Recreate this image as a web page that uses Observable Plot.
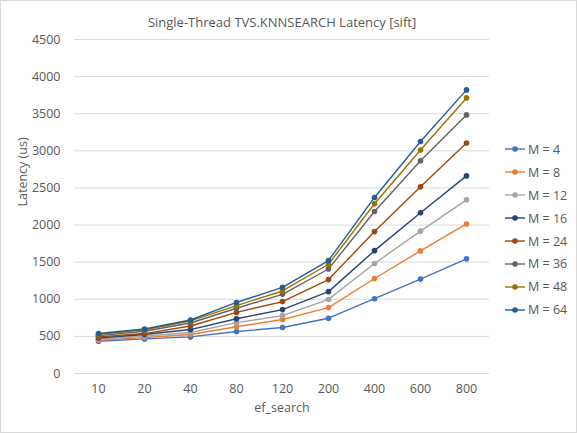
<!DOCTYPE html>
<html>
<head>
<meta charset="utf-8">
<script src="https://cdn.jsdelivr.net/npm/d3@7"></script>
<script src="https://cdn.jsdelivr.net/npm/@observablehq/plot@0.6"></script>
<style>
  html, body { margin: 0; padding: 0; background: #fff; }
  #wrap { position: relative; width: 577px; height: 433px; overflow: hidden;
          font-family: "Open Sans", "Noto Sans", sans-serif; }
  #frame { position: absolute; left: 0; top: 0; width: 577px; height: 433px;
           box-sizing: border-box; border: 1px solid #d9d9d9; pointer-events: none; }
  #legend { position: absolute; left: 505px; top: 138px; font-size: 12.5px; color: #595959; }
  .item { height: 22.9px; display: flex; align-items: center; white-space: nowrap; }
  .item svg { margin-right: 3px; }
</style>
</head>
<body>
<div id="wrap"></div>
<script>
const categories = ["10", "20", "40", "80", "120", "200", "400", "600", "800"];
const seriesNames = ["M = 4", "M = 8", "M = 12", "M = 16", "M = 24", "M = 36", "M = 48", "M = 64"];
const colors = ["#4472C4", "#ED7D31", "#A5A5A5", "#264478", "#9E480E", "#636363", "#997300", "#255E91"];
const m4  = [435, 466, 493, 565, 619, 745, 1008, 1272, 1545];
const m8  = [448, 484, 525, 630, 727, 888, 1280, 1652, 2015];
const m12 = [462, 502, 552, 685, 780, 998, 1482, 1918, 2340];
const m16 = [479, 525, 592, 738, 861, 1103, 1655, 2165, 2662];
const m24 = [493, 538, 640, 823, 969, 1265, 1912, 2515, 3106];
const m36 = [510, 570, 680, 879, 1067, 1408, 2182, 2866, 3484];
const m48 = [525, 590, 708, 915, 1112, 1472, 2287, 3012, 3713];
const m64 = [538, 600, 721, 957, 1161, 1522, 2372, 3125, 3821];
const yTicks = [0, 500, 1000, 1500, 2000, 2500, 3000, 3500, 4000, 4500];
const title = "Single-Thread TVS.KNNSEARCH Latency [sift]";
const xTitle = "ef_search";
const yTitle = "Latency (us)";

const allValues = [m4, m8, m12, m16, m24, m36, m48, m64];
const rows = [];
seriesNames.forEach((s, i) => {
  categories.forEach((c, j) => rows.push({series: s, ef: c, latency: allValues[i][j]}));
});

const textColor = "#595959";
const chart = Plot.plot({
  width: 577,
  height: 433,
  marginLeft: 74,
  marginRight: 88,
  marginTop: 39,
  marginBottom: 60,
  style: {fontFamily: "'Open Sans', 'Noto Sans', sans-serif", fontSize: "12.5px", color: textColor, background: "transparent"},
  x: {type: "point", domain: categories, padding: 0.5, label: null},
  y: {domain: [0, 4500], label: null},
  color: {domain: seriesNames, range: colors},
  marks: [
    Plot.gridY(yTicks, {stroke: "#d9d9d9", strokeOpacity: 1, strokeWidth: 1}),
    Plot.axisY(yTicks, {tickSize: 0, tickPadding: 14, fill: textColor, label: null, tickFormat: d => String(d)}),
    Plot.axisX({tickSize: 0, tickPadding: 11, fill: textColor, label: null}),
    Plot.line(rows, {x: "ef", y: "latency", stroke: "series", z: "series", strokeWidth: 1.4}),
    Plot.dot(rows, {x: "ef", y: "latency", fill: "series", r: 2.8, stroke: null}),
    Plot.text([title], {frameAnchor: "top", dy: -22, fontSize: 13, fill: textColor}),
    Plot.text([xTitle], {frameAnchor: "bottom", dy: 38, fill: textColor}),
    Plot.text([yTitle], {frameAnchor: "left", dx: -52, rotate: -90, fill: textColor})
  ]
});
chart.style.position = "absolute";
chart.style.left = "0px";
chart.style.top = "0px";
const wrap = document.getElementById("wrap");
wrap.appendChild(chart);

const legend = document.createElement("div");
legend.id = "legend";
seriesNames.forEach((s, i) => {
  const item = document.createElement("div");
  item.className = "item";
  item.innerHTML = `<svg width="20" height="8"><line x1="0" x2="20" y1="4" y2="4" stroke="${colors[i]}" stroke-width="1.4"/><circle cx="10" cy="4" r="2.8" fill="${colors[i]}"/></svg><span>${s}</span>`;
  legend.appendChild(item);
});
wrap.appendChild(legend);
const frame = document.createElement("div");
frame.id = "frame";
wrap.appendChild(frame);
</script>
</body>
</html>
